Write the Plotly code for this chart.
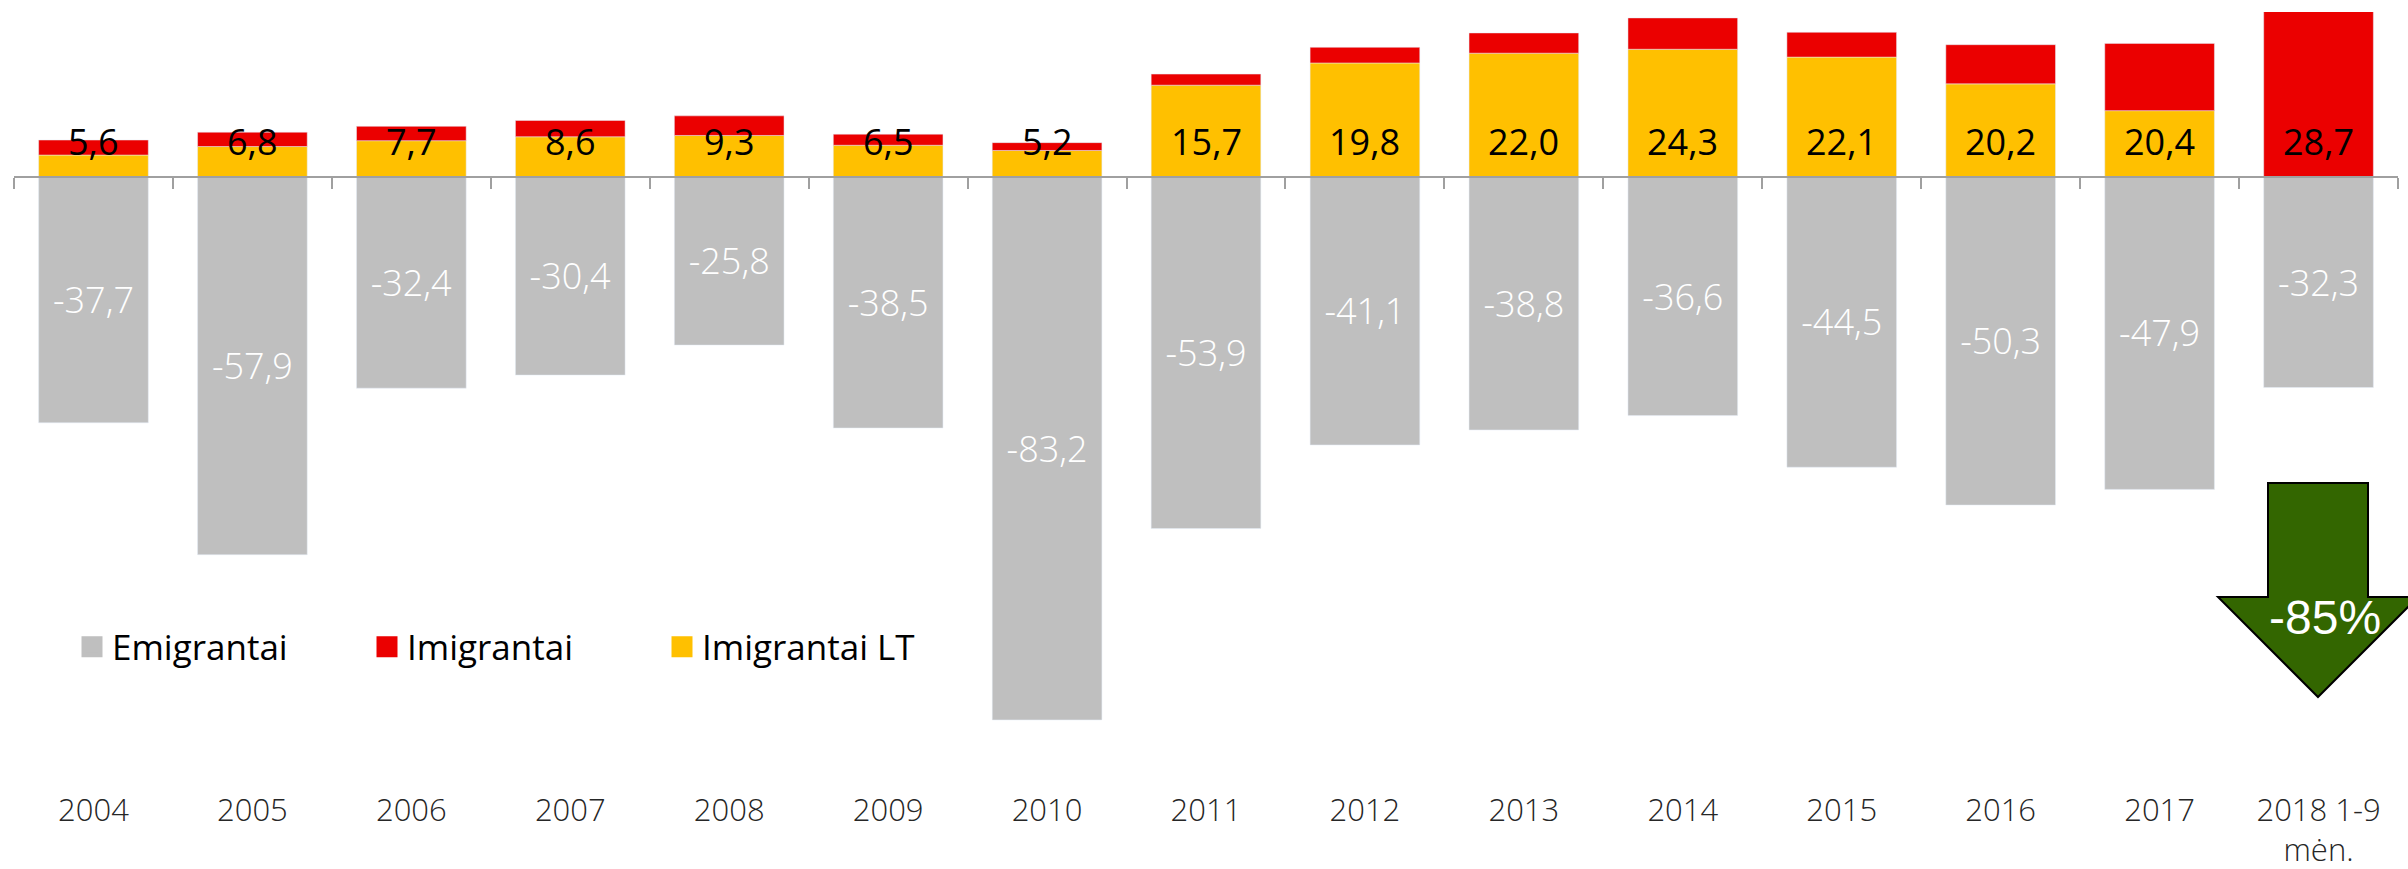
import plotly.graph_objects as go

# ---- data ----
categories = ["2004", "2005", "2006", "2007", "2008", "2009", "2010", "2011",
              "2012", "2013", "2014", "2015", "2016", "2017", "2018 1-9<br>mėn."]
emigrantai = [-37.7, -57.9, -32.4, -30.4, -25.8, -38.5, -83.2, -53.9,
              -41.1, -38.8, -36.6, -44.5, -50.3, -47.9, -32.3]
imigrantai_total = [5.6, 6.8, 7.7, 8.6, 9.3, 6.5, 5.2, 15.7,
                    19.8, 22.0, 24.3, 22.1, 20.2, 20.4, 28.7]
imigrantai_lt = [3.3, 4.6, 5.5, 6.1, 6.3, 4.8, 4.0, 14.0,
                 17.4, 18.9, 19.5, 18.3, 14.2, 10.1, 0.0]
imigrantai_other = [round(t - l, 1) for t, l in zip(imigrantai_total, imigrantai_lt)]
legend_names = ["Emigrantai", "Imigrantai", "Imigrantai LT"]
change_label = "-85%"

def fmt(v):
    return f"{v:.1f}".replace(".", ",")

W, H = 2408, 869
ML, MR, MT, MB = 14, 10, 12, 89
PLOT_L, PLOT_R, PLOT_T, PLOT_B = ML, W - MR, MT, H - MB

GRAY = "#BFBFBF"
RED = "#EB0000"
YELLOW = "#FFC000"
GREEN = "#336600"
AXIS = "#A0A0A0"
FONT = "Open Sans"

fig = go.Figure()
fig.add_trace(go.Bar(
    name=legend_names[0], x=categories, y=emigrantai, marker_color=GRAY,
    text=[fmt(v) for v in emigrantai], textposition="inside",
    insidetextanchor="middle", textangle=0,
    textfont=dict(family=FONT, size=36, color="white", weight=300),
    showlegend=False, legendgroup="emi", hoverinfo="skip"))
fig.add_trace(go.Bar(
    name=legend_names[2], x=categories, y=imigrantai_lt, marker_color=YELLOW,
    showlegend=False, legendgroup="lt", hoverinfo="skip"))
fig.add_trace(go.Bar(
    name=legend_names[1], x=categories, y=imigrantai_other, marker_color=RED,
    showlegend=False, legendgroup="imi", hoverinfo="skip"))

# legend entries (larger square swatches than bar legend icons)
for name, color, grp in zip(legend_names, [GRAY, RED, YELLOW], ["emi", "imi", "lt"]):
    fig.add_trace(go.Scatter(
        x=[None], y=[None], mode="markers", name=name, legendgroup=grp,
        marker=dict(symbol="square", size=16, color=color,
                    line=dict(width=5, color=color)),
        hoverinfo="skip"))

# invisible helper trace carrying the zero-crossing axis with boundary ticks
fig.add_trace(go.Scatter(
    x=categories, y=[0] * len(categories), xaxis="x2", yaxis="y",
    mode="markers", marker=dict(opacity=0, size=1), showlegend=False,
    hoverinfo="skip"))

ymax = (176.6 - PLOT_T) / 6.53
ymin = -(PLOT_B - 176.6) / 6.53
zero_pos = (PLOT_B - 176.6) / (PLOT_B - PLOT_T)
xr = [-0.5, len(categories) - 0.5]

fig.update_layout(
    width=W, height=H, margin=dict(l=ML, r=MR, t=MT, b=MB, autoexpand=False),
    barmode="relative", bargap=0.31,
    plot_bgcolor="white", paper_bgcolor="white",
    font=dict(family=FONT, color="#262626"),
    xaxis=dict(type="category", categoryorder="array", categoryarray=categories,
               range=xr, showline=False, ticks="", showgrid=False, automargin=False,
               zeroline=False, ticklabelstandoff=9,
               tickfont=dict(size=31, family=FONT, weight=300)),
    xaxis2=dict(type="category", categoryorder="array", categoryarray=categories,
                range=xr, overlaying="x", anchor="free", automargin=False,
                position=zero_pos, side="bottom", showline=True, linecolor=AXIS,
                linewidth=2, ticks="outside", tickson="boundaries", ticklen=11,
                tickwidth=2, tickcolor=AXIS, showticklabels=False, showgrid=False),
    yaxis=dict(range=[ymin, ymax], visible=False, showgrid=False, zeroline=False,
               automargin=False),
    legend=dict(orientation="h", x=(72 - ML) / (PLOT_R - PLOT_L),
                y=(PLOT_B - 647) / (PLOT_B - PLOT_T), xanchor="left", yanchor="middle",
                font=dict(size=35, family=FONT, color="#000000"),
                itemwidth=30, entrywidth=250, traceorder="normal",
                bgcolor="rgba(0,0,0,0)"),
    showlegend=True,
)

# total immigrant labels near the base
for i, t in enumerate(imigrantai_total):
    fig.add_annotation(x=i, y=0, xref="x", yref="y", text=fmt(t), showarrow=False,
                       yshift=35, xanchor="center", yanchor="middle",
                       font=dict(size=36, family=FONT, color="black"))

# green down arrow annotation (pixel -> paper)
def px(xp):
    return (xp - PLOT_L) / (PLOT_R - PLOT_L)

def py(yp):
    return (PLOT_B - yp) / (PLOT_B - PLOT_T)

pts = [(2268, 483), (2368, 483), (2368, 597), (2418, 597), (2318, 697),
       (2218, 597), (2268, 597)]
path = "M " + " L ".join(f"{px(a):.5f},{py(b):.5f}" for a, b in pts) + " Z"
fig.add_shape(type="path", path=path, xref="paper", yref="paper",
              fillcolor=GREEN, line=dict(color="black", width=2))
fig.add_annotation(x=px(2325), y=py(617), xref="paper", yref="paper",
                   xanchor="center", yanchor="middle",
                   text=change_label, showarrow=False,
                   font=dict(size=48, family="Liberation Sans", color="white"))

fig.write_html("out.html", config={"displayModeBar": False},
               post_script="document.body.style.margin='0px';")
